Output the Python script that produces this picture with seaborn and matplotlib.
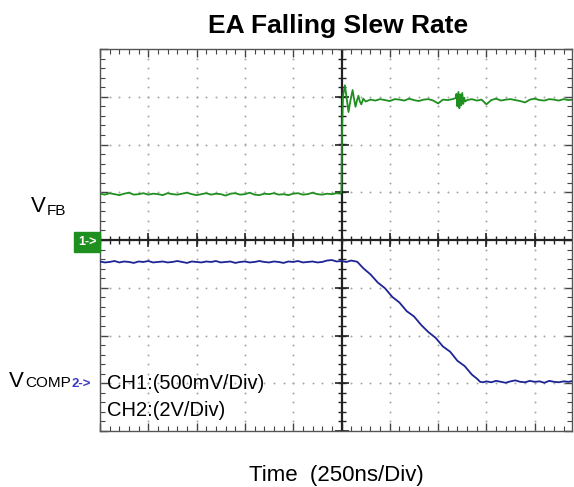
import numpy as np
import pandas as pd
import matplotlib
matplotlib.use("Agg")
import matplotlib.pyplot as plt
import seaborn as sns

# ---------------- data (in scope divisions) ----------------
# CH1 (V_FB), green trace
ch1_t_pre = [-5.0, -4.9, -4.8, -4.7, -4.6, -4.5, -4.4, -4.3, -4.2, -4.1,
             -4.0, -3.9, -3.8, -3.7, -3.6, -3.5, -3.4, -3.3, -3.2, -3.1,
             -3.0, -2.9, -2.8, -2.7, -2.6, -2.5, -2.4, -2.3, -2.2, -2.1,
             -2.0, -1.9, -1.8, -1.7, -1.6, -1.5, -1.4, -1.3, -1.2, -1.1,
             -1.0, -0.9, -0.8, -0.7, -0.6, -0.5, -0.4, -0.3, -0.2, -0.1]
ch1_v_pre = [0.97, 0.95, 0.98, 0.96, 0.94, 0.97, 0.99, 0.95, 0.96, 0.98,
             0.95, 0.97, 0.96, 0.94, 0.98, 0.96, 0.95, 0.97, 0.99, 0.96,
             0.94, 0.96, 0.98, 0.95, 0.97, 0.96, 0.93, 0.97, 0.98, 0.95,
             0.96, 0.99, 0.95, 0.94, 0.97, 0.96, 0.98, 0.95, 0.96, 0.94,
             0.97, 0.98, 0.95, 0.96, 0.99, 0.96, 0.95, 0.97, 0.96, 0.98]
ch1_t_step = [-0.02, 0.0, 0.01, 0.03, 0.07, 0.11, 0.145, 0.19, 0.23, 0.26,
              0.29, 0.32, 0.35, 0.38, 0.41, 0.45, 0.5]
ch1_v_step = [0.97, 1.05, 2.2, 3.0, 3.24, 2.95, 2.68, 2.95, 3.14, 2.95,
              2.79, 2.92, 3.02, 2.9, 2.84, 2.96, 2.9]
ch1_t_post = [0.6, 0.7, 0.8, 0.9, 1.0, 1.1, 1.2, 1.3, 1.4, 1.5,
              1.6, 1.7, 1.8, 1.9, 2.0, 2.1, 2.2, 2.3,
              2.36, 2.38, 2.40, 2.42, 2.44, 2.46, 2.48, 2.50, 2.52, 2.54, 2.56,
              2.6, 2.7, 2.8, 2.9, 3.0, 3.1, 3.2, 3.3, 3.4, 3.5,
              3.6, 3.7, 3.8, 3.9, 4.0, 4.1, 4.2, 4.3, 4.4, 4.5,
              4.6, 4.7, 4.8]
ch1_v_post = [2.94, 2.92, 2.95, 2.93, 2.91, 2.95, 2.94, 2.92, 2.96, 2.93,
              2.91, 2.94, 2.95, 2.92, 2.86, 2.94, 2.93, 2.95,
              2.97, 3.06, 2.80, 3.10, 2.76, 3.05, 2.82, 3.08, 2.85, 2.98, 2.90,
              2.93, 2.95, 2.92, 2.94, 2.84, 2.93, 2.96, 2.92, 2.94, 2.95,
              2.93, 2.91, 2.88, 2.94, 2.96, 2.93, 2.92, 2.95, 2.94, 2.92,
              2.95, 2.93, 2.94]

# CH2 (V_COMP), blue trace
ch2_t_pre = [-5.0, -4.9, -4.8, -4.7, -4.6, -4.5, -4.4, -4.3, -4.2, -4.1,
             -4.0, -3.9, -3.8, -3.7, -3.6, -3.5, -3.4, -3.3, -3.2, -3.1,
             -3.0, -2.9, -2.8, -2.7, -2.6, -2.5, -2.4, -2.3, -2.2, -2.1,
             -2.0, -1.9, -1.8, -1.7, -1.6, -1.5, -1.4, -1.3, -1.2, -1.1,
             -1.0, -0.9, -0.8, -0.7, -0.6, -0.5, -0.4, -0.3, -0.2, -0.1,
             0.0, 0.1, 0.2, 0.3]
ch2_v_pre = [-0.45, -0.47, -0.46, -0.44, -0.47, -0.45, -0.46, -0.48, -0.45, -0.46,
             -0.44, -0.47, -0.46, -0.45, -0.47, -0.46, -0.44, -0.46, -0.48, -0.45,
             -0.46, -0.47, -0.45, -0.46, -0.44, -0.47, -0.46, -0.45, -0.48, -0.46,
             -0.45, -0.47, -0.46, -0.44, -0.46, -0.47, -0.45, -0.46, -0.48, -0.45,
             -0.46, -0.44, -0.47, -0.46, -0.45, -0.47, -0.46, -0.43, -0.42, -0.45,
             -0.44, -0.46, -0.43, -0.45]
ch2_t_ramp = [0.33, 0.45, 0.6, 0.75, 0.9, 1.05, 1.2, 1.35, 1.5, 1.65,
              1.8, 1.95, 2.1, 2.25, 2.4, 2.55, 2.7, 2.8, 2.87, 2.93]
ch2_v_ramp = [-0.46, -0.59, -0.72, -0.89, -1.01, -1.19, -1.31, -1.49, -1.60, -1.78,
              -1.93, -2.05, -2.23, -2.34, -2.53, -2.64, -2.82, -2.90, -2.97, -2.98]
ch2_t_post = [3.0, 3.1, 3.2, 3.3, 3.4, 3.5, 3.6, 3.7, 3.8, 3.9,
              4.0, 4.1, 4.2, 4.3, 4.4, 4.5, 4.6, 4.7, 4.8]
ch2_v_post = [-2.96, -2.98, -2.95, -2.97, -2.99, -2.96, -2.94, -2.97, -2.98, -2.95,
              -2.97, -2.96, -2.99, -2.95, -2.97, -2.98, -2.96, -2.97, -2.95]

title = "EA Falling Slew Rate"
xlabel = "Time  (250ns/Div)"
scale_lines = ["CH1:(500mV/Div)", "CH2:(2V/Div)"]

# ---------------- figure ----------------
sns.set_style("white")
plt.rcParams["font.family"] = ["Liberation Sans", "DejaVu Sans"]
plt.rcParams["text.color"] = "black"

W, H = 574, 487
fig = plt.figure(figsize=(W / 100, H / 100), dpi=100)
L, R, T, B = 100, 572, 49, 431
ax = fig.add_axes([L / W, 1 - B / H, (R - L) / W, (B - T) / H])

df = pd.concat([
    pd.DataFrame({"t": ch1_t_pre + ch1_t_step + ch1_t_post,
                  "v": ch1_v_pre + ch1_v_step + ch1_v_post, "ch": "CH1"}),
    pd.DataFrame({"t": ch2_t_pre + ch2_t_ramp + ch2_t_post,
                  "v": ch2_v_pre + ch2_v_ramp + ch2_v_post, "ch": "CH2"}),
], ignore_index=True)

px_per_div = 48.3
ax.set_xlim(-5, -5 + (R - L) / px_per_div)
ax.set_ylim(-4, 4)

# graticule dots
gx, gy = [], []
for k in [-4, -3, -2, -1, 1, 2, 3, 4]:
    for s in np.arange(-4, 4.01, 0.2):
        gx.append(k); gy.append(s)
for k in [-3, -2, -1, 1, 2, 3]:
    for s in np.arange(-5, 4.8, 0.2):
        gx.append(s); gy.append(k)
ax.scatter(gx, gy, s=2.0, color="#a8a8a8", linewidths=0, zorder=1)

# center crosshair with ticks
ax.axhline(0, color="#222222", lw=1.6, zorder=2)
ax.axvline(0, color="#222222", lw=1.6, zorder=2)
mx = np.arange(-5, 4.8, 0.2)
my = np.arange(-4, 4.01, 0.2)
ax.plot(mx, np.zeros_like(mx), ls="none", marker="|", ms=6, mew=1.0,
        color="#222222", zorder=2)
ax.plot(np.zeros_like(my), my, ls="none", marker="_", ms=6, mew=1.0,
        color="#222222", zorder=2)
majx = np.arange(-5, 5, 1.0)
majy = np.arange(-4, 5, 1.0)
ax.plot(majx, np.zeros_like(majx), ls="none", marker="|", ms=10, mew=1.2,
        color="#222222", zorder=2)
ax.plot(np.zeros_like(majy), majy, ls="none", marker="_", ms=10, mew=1.2,
        color="#222222", zorder=2)

# traces
sns.lineplot(data=df, x="t", y="v", hue="ch", palette={"CH1": "#1f8f1f", "CH2": "#1c2496"},
             estimator=None, sort=False, legend=False, lw=1.3, ax=ax, zorder=3)

# border ticks
ax.set_xticks(np.arange(-5, 5, 1.0))
ax.set_yticks(np.arange(-4, 5, 1.0))
ax.set_xticks(np.arange(-5, 4.8, 0.2), minor=True)
ax.set_yticks(np.arange(-4, 4.01, 0.2), minor=True)
ax.tick_params(which="both", direction="in", top=True, right=True, bottom=True, left=True,
               labelbottom=False, labelleft=False, color="#444444")
ax.tick_params(which="major", length=6, width=1.0)
ax.tick_params(which="minor", length=3.5, width=0.8)
for sp in ax.spines.values():
    sp.set_color("#555555")
    sp.set_linewidth(1.0)
ax.set_xlabel("")
ax.set_ylabel("")

def fx(px):
    return px / W

def fy(py):
    return 1 - py / H

# titles
fig.text(fx(338), fy(33), title, ha="center", va="baseline", fontsize=19,
         fontweight="bold", color="black")
fig.text(fx(336), fy(481), xlabel, ha="center", va="baseline", fontsize=16, color="black")

# channel labels
fig.text(fx(31), fy(212), "V", ha="left", va="baseline", fontsize=16, color="black")
fig.text(fx(47), fy(215), "FB", ha="left", va="baseline", fontsize=11, color="black")
fig.text(fx(9), fy(387), "V", ha="left", va="baseline", fontsize=16, color="black")
fig.text(fx(25), fy(387), "COMP", ha="left", va="baseline", fontsize=11, color="black")
fig.text(fx(72), fy(387), "2->", ha="left", va="baseline", fontsize=9.5,
         fontweight="bold", color="#3a3ac4")

# channel 1 marker box
fig.text(fx(87), fy(242), "1->", ha="center", va="center", fontsize=9,
         fontweight="bold", color="white",
         bbox=dict(boxstyle="square,pad=0.3", fc="#1f8f1f", ec="#1f8f1f"))

# scale annotations
fig.text(fx(107), fy(389), scale_lines[0], ha="left", va="baseline", fontsize=14.5, color="black")
fig.text(fx(107), fy(416), scale_lines[1], ha="left", va="baseline", fontsize=14.5, color="black")

fig.savefig("out.png", dpi=100)
